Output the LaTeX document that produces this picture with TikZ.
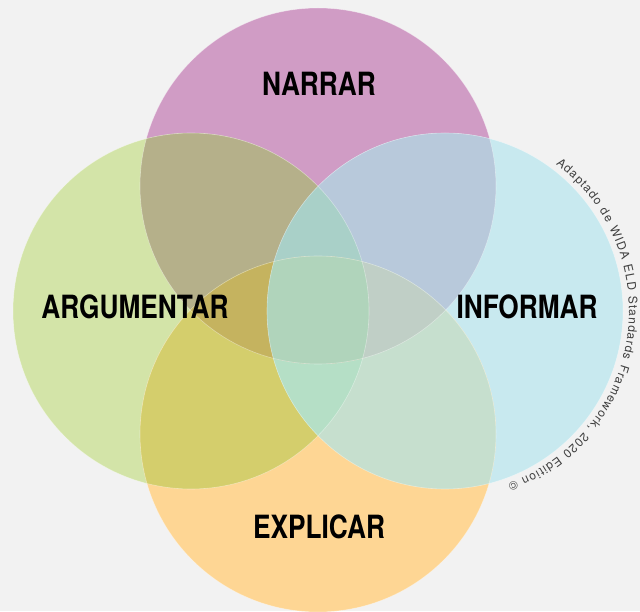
\documentclass[tikz,border=0pt]{standalone}
\usepackage{fontspec}
\usetikzlibrary{decorations.text}
\newfontfamily\labelfont[FakeStretch=0.82]{TeX Gyre Heros}
\newfontfamily\creditfont{TeX Gyre Heros}

\definecolor{bggray}{HTML}{F2F2F2}
\definecolor{narcol}{HTML}{D09CC5}
\definecolor{argcol}{HTML}{D3E4A8}
\definecolor{infcol}{HTML}{C8E9EF}
\definecolor{expcol}{HTML}{FED694}
\definecolor{narargcol}{HTML}{B5B08A}
\definecolor{narinfcol}{HTML}{B8C9DB}
\definecolor{argexpcol}{HTML}{D4CE6C}
\definecolor{infexpcol}{HTML}{C6DFCE}
\definecolor{narargexpcol}{HTML}{C5B35F}
\definecolor{narinfexpcol}{HTML}{C0CFC6}
\definecolor{narargmidcol}{HTML}{A9D0C8}
\definecolor{expargmidcol}{HTML}{B5DFC6}
\definecolor{allcol}{HTML}{B0D4BB}

\tikzset{
  biglabel/.style={font=\labelfont\bfseries\fontsize{32}{36}\selectfont, inner sep=0pt},
  rim/.style={draw=white, draw opacity=0.4, line width=0.6pt}
}

\begin{document}
\begin{tikzpicture}[x=1pt, y=1pt]
    \useasboundingbox (0,0) rectangle (640,611);
    \fill[bggray] (0,0) rectangle (640,611);
    \def\rad{178}
    \coordinate (nar) at (318,425);
    \coordinate (arg) at (191,300);
    \coordinate (inf) at (445,300);
    \coordinate (exp) at (318,177);
    % single circles
    \fill[narcol] (nar) circle (\rad);
    \fill[argcol] (arg) circle (\rad);
    \fill[infcol] (inf) circle (\rad);
    \fill[expcol] (exp) circle (\rad);
    % pairs
  \begin{scope}
    \clip (nar) circle (\rad);
    \fill[narargcol] (arg) circle (\rad);
    \fill[narinfcol] (inf) circle (\rad);
  \end{scope}
  \begin{scope}
    \clip (exp) circle (\rad);
    \fill[argexpcol] (arg) circle (\rad);
    \fill[infexpcol] (inf) circle (\rad);
  \end{scope}
    % triples
  \begin{scope}
    \clip (arg) circle (\rad);
    \clip (inf) circle (\rad);
    \fill[narargmidcol] (nar) circle (\rad);
    \fill[expargmidcol] (exp) circle (\rad);
  \end{scope}
  \begin{scope}
    \clip (nar) circle (\rad);
    \clip (exp) circle (\rad);
    \fill[narargexpcol] (arg) circle (\rad);
    \fill[narinfexpcol] (inf) circle (\rad);
    \clip (arg) circle (\rad);
    \fill[allcol] (inf) circle (\rad);
  \end{scope}
    % rims
    \draw[rim] (nar) circle (\rad);
    \draw[rim] (arg) circle (\rad);
    \draw[rim] (inf) circle (\rad);
    \draw[rim] (exp) circle (\rad);
    % labels
    \node[biglabel] (narrar) at (319,527) {NARRAR};
    \node[biglabel] (argumentar) at (135,304) {ARGUMENTAR};
    \node[biglabel] (informar) at (527,304) {INFORMAR};
    \node[biglabel] (explicar) at (319,84) {EXPLICAR};
    % credit line
    \path[decorate, decoration={text along path, text align=fit to path,
        text={|\creditfont\fontsize{12}{14}\selectfont\color{black!75}|Adaptado de WIDA ELD Standards Framework{,} 2020 Edition ©}}]
      (inf) ++(53:184) arc[start angle=53, end angle=-70, radius=184];
\end{tikzpicture}
\end{document}
